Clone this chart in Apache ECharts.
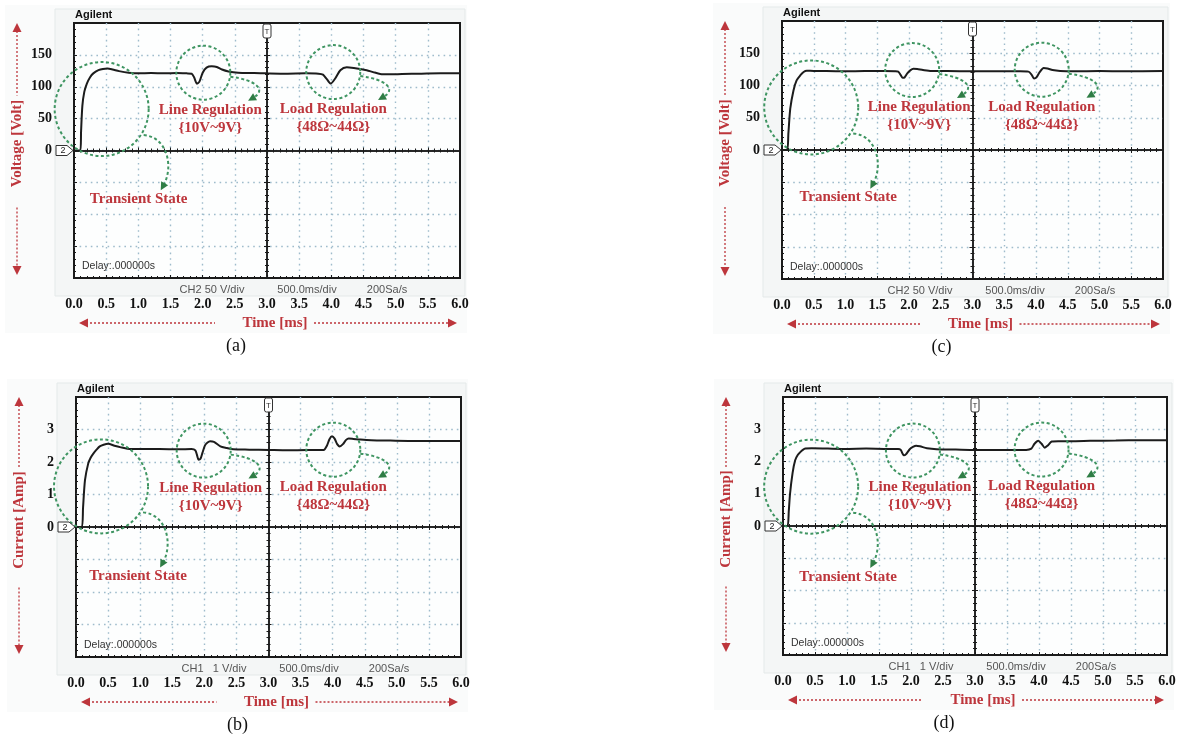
<!DOCTYPE html>
<html>
<head>
<meta charset="utf-8">
<script src="https://cdn.jsdelivr.net/npm/echarts@6/dist/echarts.min.js"></script>
<style>
  html, body { margin: 0; padding: 0; background: #fff; }
  #main { width: 1187px; height: 735px; }
</style>
</head>
<body>
<div id="main"></div>
<script>
// (a) output voltage, converter 1  [ms] / [V]
var timeA = [0, 0.1, 0.11, 0.13, 0.16, 0.2, 0.25, 0.3, 0.38, 0.45, 0.52, 0.6, 0.7, 0.85, 1.0, 1.2, 1.4, 1.6, 1.75, 1.83, 1.87, 1.91, 1.95, 2.0, 2.06, 2.14, 2.22, 2.3, 2.4, 2.55, 2.8, 3.0, 3.3, 3.6, 3.8, 3.87, 3.93, 3.99, 4.06, 4.14, 4.24, 4.35, 4.45, 4.55, 4.65, 4.76, 4.9, 5.1, 5.4, 5.7, 6.0];
var voltA = [0, 0, 30, 70, 92, 105, 115, 121, 126, 128, 128.5, 127, 124.5, 122, 121, 121.5, 121, 121.5, 121, 120.5, 114, 105, 108, 122, 130, 132, 131, 127, 124, 122, 121.5, 121, 120.5, 121, 120.5, 119, 112, 105, 113, 126, 130.5, 129.5, 128, 126, 123, 120, 119.5, 120, 120.5, 121, 121];

// (b) output current, converter 1  [ms] / [A]
var timeB = [0, 0.09, 0.11, 0.14, 0.19, 0.23, 0.27, 0.32, 0.37, 0.43, 0.5, 0.6, 0.7, 0.8, 1.0, 1.3, 1.6, 1.8, 1.86, 1.89, 1.91, 1.94, 1.97, 2.01, 2.05, 2.09, 2.15, 2.25, 2.35, 2.45, 2.7, 3.0, 3.3, 3.6, 3.86, 3.91, 3.95, 3.99, 4.03, 4.07, 4.11, 4.16, 4.21, 4.25, 4.32, 4.43, 4.6, 4.9, 5.3, 5.7, 6.0];
var currB = [0, 0, 0.6, 1.44, 1.95, 2.14, 2.26, 2.38, 2.48, 2.53, 2.56, 2.5, 2.45, 2.41, 2.4, 2.4, 2.39, 2.4, 2.36, 2.18, 2.07, 2.1, 2.28, 2.51, 2.6, 2.64, 2.62, 2.48, 2.43, 2.39, 2.38, 2.37, 2.36, 2.37, 2.37, 2.5, 2.7, 2.79, 2.72, 2.55, 2.48, 2.55, 2.68, 2.72, 2.71, 2.69, 2.67, 2.66, 2.65, 2.65, 2.65];

// (c) output voltage, converter 2
var timeC = [0, 0.08, 0.1, 0.13, 0.18, 0.23, 0.29, 0.34, 0.39, 0.5, 0.7, 1.0, 1.3, 1.6, 1.78, 1.83, 1.87, 1.9, 1.93, 1.97, 2.02, 2.07, 2.13, 2.22, 2.35, 2.6, 3.0, 3.4, 3.75, 3.88, 3.93, 3.97, 4.01, 4.06, 4.12, 4.18, 4.26, 4.38, 4.6, 5.0, 5.4, 6.0];
var voltC = [0, 0, 25, 64, 92, 108, 116, 121, 123, 122.5, 122.5, 122, 122.5, 122.5, 122, 121.5, 116, 112, 112.5, 118.5, 123.5, 126, 125.5, 124, 122.5, 122.5, 122, 122, 122, 121.5, 117, 111, 113, 121, 127, 126.5, 124, 122.5, 122, 122.5, 122, 122.5];

// (d) output current, converter 2
var timeD = [0, 0.07, 0.09, 0.11, 0.15, 0.19, 0.23, 0.27, 0.31, 0.35, 0.45, 0.7, 1.0, 1.3, 1.6, 1.8, 1.84, 1.87, 1.89, 1.92, 1.98, 2.03, 2.08, 2.14, 2.25, 2.4, 2.7, 3.0, 3.4, 3.8, 3.88, 3.93, 3.99, 4.04, 4.09, 4.14, 4.2, 4.3, 4.5, 4.8, 5.2, 5.6, 6.0];
var currD = [0, 0, 0.45, 1.0, 1.65, 2.04, 2.2, 2.29, 2.36, 2.4, 2.41, 2.4, 2.39, 2.4, 2.39, 2.39, 2.36, 2.24, 2.19, 2.22, 2.38, 2.45, 2.49, 2.47, 2.41, 2.38, 2.37, 2.36, 2.36, 2.36, 2.4, 2.55, 2.64, 2.55, 2.43, 2.5, 2.62, 2.63, 2.63, 2.64, 2.65, 2.66, 2.66];

var voltTicks = [0, 50, 100, 150];
var currTicks = [0, 1, 2, 3];

// circled events [time, value]: transient, line regulation, load regulation
var markA = [[0.43, 65], [2.01, 122], [4.03, 123]];
var markB = [[0.39, 1.25], [1.99, 2.35], [4.01, 2.38]];
var markC = [[0.46, 66], [2.05, 124], [4.09, 124.5]];
var markD = [[0.44, 1.22], [2.03, 2.34], [4.04, 2.37]];

var RED = '#bd363c', GREEN = '#3f9562', GREEN_HEAD = '#2f7d45', GRIDC = '#9fbccc', INK = '#1a1a1a';
var SERIF = '"Liberation Serif", "Times New Roman", serif';
var SANS = '"Liberation Sans", Arial, sans-serif';

var panels = [
  { cap: '(a)', box: { left: 74, top: 23, width: 386, height: 255 }, time: timeA, vals: voltA, span: 200, step: 50, ticks: voltTicks, yTitle: 'Voltage [Volt]', tlen: 88, ch: 'CH2 50 V/div', marks: markA },
  { cap: '(b)', box: { left: 76, top: 397, width: 385, height: 260 }, time: timeB, vals: currB, span: 4, step: 1, ticks: currTicks, yTitle: 'Current [Amp]', tlen: 95, ch: 'CH1   1 V/div', marks: markB },
  { cap: '(c)', box: { left: 782, top: 21, width: 381, height: 258 }, time: timeC, vals: voltC, span: 200, step: 50, ticks: voltTicks, yTitle: 'Voltage [Volt]', tlen: 88, ch: 'CH2 50 V/div', marks: markC },
  { cap: '(d)', box: { left: 783, top: 397, width: 384, height: 258 }, time: timeD, vals: currD, span: 4, step: 1, ticks: currTicks, yTitle: 'Current [Amp]', tlen: 95, ch: 'CH1   1 V/div', marks: markD }
];

var chart = echarts.init(document.getElementById('main'));

var grids = [], xAxes = [], yAxes = [], series = [];
var tickStyle = { color: INK, width: 1 };

panels.forEach(function (p, k) {
  grids.push({
    left: p.box.left, top: p.box.top, width: p.box.width, height: p.box.height,
    show: true, borderColor: INK, borderWidth: 2, backgroundColor: '#fdfefe',
    containLabel: false, outerBoundsMode: 'none'
  });

  xAxes.push({
    gridIndex: k, type: 'value', min: 0, max: 6, interval: 0.5, position: 'bottom',
    axisLine: { show: false, onZero: false },
    axisTick: { show: true, inside: true, length: 3, lineStyle: tickStyle },
    minorTick: { show: true, splitNumber: 5, length: 2, lineStyle: tickStyle },
    splitLine: { show: true, showMinLine: false, showMaxLine: false, lineStyle: { color: GRIDC, type: [1.6, 4], width: 1.4 } },
    axisLabel: { margin: 19, color: '#111', fontFamily: SERIF, fontWeight: 'bold', fontSize: 14,
      formatter: function (v) { return v.toFixed(1); } }
  });
  // centre crosshair (horizontal line through 0), ticks on both sides
  [false, true].forEach(function (inside) {
    xAxes.push({
      gridIndex: k, type: 'value', min: -3, max: 3, interval: 0.5, position: 'bottom',
      axisLine: { show: true, onZero: true, onZeroAxisIndex: 3 * k, lineStyle: { color: INK, width: 1.5 } },
      axisTick: { show: true, inside: inside, length: 3, lineStyle: tickStyle },
      minorTick: { show: true, splitNumber: 5, length: 2, lineStyle: tickStyle },
      splitLine: { show: false }, axisLabel: { show: false }
    });
  });

  yAxes.push({
    gridIndex: k, type: 'value', min: -p.span, max: p.span, interval: p.step, position: 'left',
    axisLine: { show: false, onZero: false },
    axisTick: { show: true, inside: true, length: 3, lineStyle: tickStyle },
    minorTick: { show: true, splitNumber: 5, length: 2, lineStyle: tickStyle },
    splitLine: { show: true, showMinLine: false, showMaxLine: false, lineStyle: { color: GRIDC, type: [1.6, 4], width: 1.4 } },
    axisLabel: { margin: 22, color: '#111', fontFamily: SERIF, fontWeight: 'bold', fontSize: 14,
      formatter: function (v) { return p.ticks.indexOf(v) >= 0 ? String(v) : ''; } }
  });
  // centre crosshair (vertical line at 3.0 ms)
  [false, true].forEach(function (inside) {
    yAxes.push({
      gridIndex: k, type: 'value', min: -p.span, max: p.span, interval: p.step, position: 'left',
      axisLine: { show: true, onZero: true, onZeroAxisIndex: 3 * k + 1, lineStyle: { color: INK, width: 1.5 } },
      axisTick: { show: true, inside: inside, length: 3, lineStyle: tickStyle },
      minorTick: { show: true, splitNumber: 5, length: 2, lineStyle: tickStyle },
      splitLine: { show: false }, axisLabel: { show: false }
    });
  });

  series.push({
    type: 'line', xAxisIndex: 3 * k, yAxisIndex: 3 * k,
    data: p.time.map(function (t, i) { return [t, p.vals[i]]; }),
    showSymbol: false, smooth: 0.25, z: 5,
    lineStyle: { color: '#1c1c1c', width: 2 }
  });
});

chart.setOption({
  animation: false,
  backgroundColor: '#fff',
  grid: grids,
  xAxis: xAxes,
  yAxis: yAxes,
  series: series
});

function head(tip, from, size, color) {
  var dx = tip[0] - from[0], dy = tip[1] - from[1];
  var d = Math.sqrt(dx * dx + dy * dy) || 1;
  var ux = dx / d, uy = dy / d;
  var bx = tip[0] - ux * size, by = tip[1] - uy * size;
  var px = -uy * size * 0.5, py = ux * size * 0.5;
  return { type: 'polygon', silent: true, z: 20,
    shape: { points: [tip, [bx + px, by + py], [bx - px, by - py]] }, style: { fill: color } };
}
function txt(x, y, s, font, fill, align, extra) {
  var el = { type: 'text', x: x, y: y, silent: true, z: 20,
    style: { text: s, font: font, fill: fill, align: align || 'center', verticalAlign: 'middle' } };
  if (extra) for (var key in extra) el[key] = extra[key];
  return el;
}
function seg(x1, y1, x2, y2, color, dash, w) {
  return { type: 'line', silent: true, z: 20, shape: { x1: x1, y1: y1, x2: x2, y2: y2 },
    style: { stroke: color, lineWidth: w || 1.3, lineDash: dash } };
}
function curvedArrow(c, pts) {
  var s = [c[0] + pts[0][0], c[1] + pts[0][1]], c1 = [c[0] + pts[1][0], c[1] + pts[1][1]],
      c2 = [c[0] + pts[2][0], c[1] + pts[2][1]], e = [c[0] + pts[3][0], c[1] + pts[3][1]];
  var dx = e[0] - c2[0], dy = e[1] - c2[1], d = Math.sqrt(dx * dx + dy * dy);
  var tip = [e[0] + dx / d * 6, e[1] + dy / d * 6];
  return [
    { type: 'bezierCurve', silent: true, z: 20,
      shape: { x1: s[0], y1: s[1], cpx1: c1[0], cpy1: c1[1], cpx2: c2[0], cpy2: c2[1], x2: e[0], y2: e[1] },
      style: { stroke: GREEN, lineWidth: 2, lineDash: [3, 2.5], fill: null } },
    head(tip, e, 8, GREEN_HEAD)
  ];
}

var g = [];
var annFont = 'bold 15px ' + SERIF;
panels.forEach(function (p, k) {
  var b = p.box, L = b.left, T = b.top, R = L + b.width, B = T + b.height;
  var ref = { xAxisIndex: 3 * k, yAxisIndex: 3 * k };
  var origin = chart.convertToPixel(ref, [3, 0]);
  var cx = origin[0], zy = origin[1];

  // photo backgrounds
  g.push({ type: 'rect', silent: true, z: -10, shape: { x: L - 69, y: T - 18, width: b.width + 76, height: b.height + 73 },
    style: { fill: '#fafbfb' } });
  g.push({ type: 'rect', silent: true, z: -9, shape: { x: L - 19, y: T - 14, width: b.width + 24, height: b.height + 32 },
    style: { fill: '#f4f6f6', stroke: '#e4e9e9', lineWidth: 1 } });

  // scope texts
  g.push(txt(L + 1, T - 8, 'Agilent', 'bold 11px ' + SANS, '#111', 'left'));
  g.push(txt(L + 8, B - 12, 'Delay:.000000s', '10.5px ' + SANS, '#333', 'left'));
  g.push(txt(L + 138, B + 11.5, p.ch, '11px ' + SANS, '#555'));
  g.push(txt(L + 233, B + 11.5, '500.0ms/div', '11px ' + SANS, '#555'));
  g.push(txt(L + 313, B + 11.5, '200Sa/s', '11px ' + SANS, '#555'));

  // channel ground marker
  g.push({ type: 'polygon', silent: true, z: 21,
    shape: { points: [[L - 18, zy - 5], [L - 7, zy - 5], [L - 1, zy], [L - 7, zy + 5], [L - 18, zy + 5]] },
    style: { fill: '#fff', stroke: '#333', lineWidth: 1 } });
  g.push(txt(L - 11, zy + 0.5, '2', '9px ' + SANS, '#222', 'center', { z: 22 }));
  // trigger marker
  g.push({ type: 'rect', silent: true, z: 21, shape: { x: cx - 4, y: T + 1, width: 8, height: 14, r: 2 },
    style: { fill: '#fff', stroke: '#333', lineWidth: 1 } });
  g.push(txt(cx, T + 8.5, 'T', '8px ' + SANS, '#333', 'center', { z: 22 }));

  // x axis title with arrows
  var ty = B + 45;
  g.push(txt(cx + 8, ty, 'Time [ms]', 'bold 15px ' + SERIF, RED));
  g.push(seg(L + 12, ty, cx - 52, ty, RED, [2, 2]));
  g.push(head([L + 5, ty], [L + 15, ty], 9, RED));
  g.push(seg(cx + 47, ty, R - 11, ty, RED, [2, 2]));
  g.push(head([R - 3, ty], [R - 13, ty], 9, RED));

  // y axis title with arrows
  var yx = L - 57, ym = T + b.height / 2 - 7;
  g.push(txt(yx, ym, p.yTitle, 'bold 15px ' + SERIF, RED, 'center', { rotation: Math.PI / 2 }));
  g.push(seg(yx, T + 8, yx, ym - p.tlen / 2 - 4, RED, [2, 2]));
  g.push(head([yx, T], [yx, T + 10], 9, RED));
  g.push(seg(yx, ym + p.tlen / 2 + 20, yx, B - 11, RED, [2, 2]));
  g.push(head([yx, B - 3], [yx, B - 13], 9, RED));

  // caption
  g.push(txt(L + b.width / 2 - 31, B + 68, p.cap, '18px ' + SERIF, '#111'));

  // circled events
  var cT = chart.convertToPixel(ref, p.marks[0]);
  var cLn = chart.convertToPixel(ref, p.marks[1]);
  var cLd = chart.convertToPixel(ref, p.marks[2]);
  [[cT, 47], [cLn, 27], [cLd, 27]].forEach(function (m) {
    g.push({ type: 'circle', silent: true, z: 19, shape: { cx: m[0][0], cy: m[0][1], r: m[1] },
      style: { fill: null, stroke: GREEN, lineWidth: 2, lineDash: [3, 2.5] } });
  });
  g = g.concat(curvedArrow(cT, [[42, 26], [66, 28], [72, 58], [62, 76]]));
  g = g.concat(curvedArrow(cLn, [[27, 4], [52, 7], [64, 17], [50, 25]]));
  g = g.concat(curvedArrow(cLd, [[27, 4], [52, 7], [64, 17], [50, 25]]));

  g.push(txt(cLn[0] + 7, cLn[1] + 37, 'Line Regulation', annFont, RED));
  g.push(txt(cLn[0] + 7, cLn[1] + 55, '{10V~9V}', annFont, RED));
  g.push(txt(cLd[0], cLd[1] + 37, 'Load Regulation', annFont, RED));
  g.push(txt(cLd[0], cLd[1] + 55, '{48Ω~44Ω}', annFont, RED));
  g.push(txt(cT[0] + 37, cT[1] + 90, 'Transient State', annFont, RED));
});

chart.setOption({ graphic: { elements: g } });
</script>
</body>
</html>
